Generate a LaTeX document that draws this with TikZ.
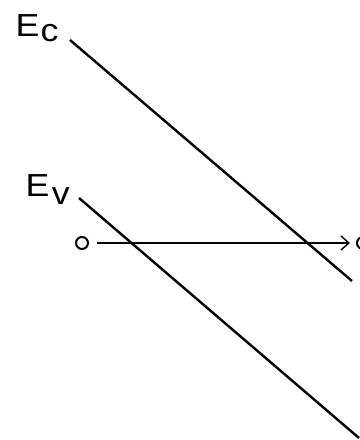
\documentclass[tikz,border=0pt]{standalone}
\usepackage{fontspec}
\setmainfont{Liberation Sans}
\usetikzlibrary{arrows.meta}
\begin{document}
\begin{tikzpicture}[x=1bp,y=-1bp,
  band/.style={line width=2.4bp,black},
  lbl/.style={anchor=base west,inner sep=0pt,font=\fontsize{32}{32}\selectfont},
  hole/.style={circle,draw,line width=2bp,minimum size=12bp,inner sep=0pt},
  move/.style={line width=1.4bp,-{Straight Barb[length=8bp,width=14bp,line width=1.4bp]}}]
\useasboundingbox (0,0) rectangle (359,440);
\node[lbl] (ec) at (15.5,37) {\scalebox{1.12}[1]{E\kern1bp\raisebox{-5bp}{c}}};
\node[lbl] (ev) at (25.5,197) {\scalebox{1.12}[1]{E\kern2bp\raisebox{-8bp}{v}}};
\coordinate (c1) at (70,40);
\coordinate (c2) at (352,281);
\coordinate (v1) at (79,198);
\coordinate (v2) at (359,438);
\draw[band] (c1) -- (c2);
\draw[band] (v1) -- (v2);
\node[hole] (h1) at (82,243) {};
\node[hole] (h2) at (363,243) {};
\draw[move,shorten >=6bp] ([xshift=8bp]h1.east) -- (h2);
\end{tikzpicture}
\end{document}
